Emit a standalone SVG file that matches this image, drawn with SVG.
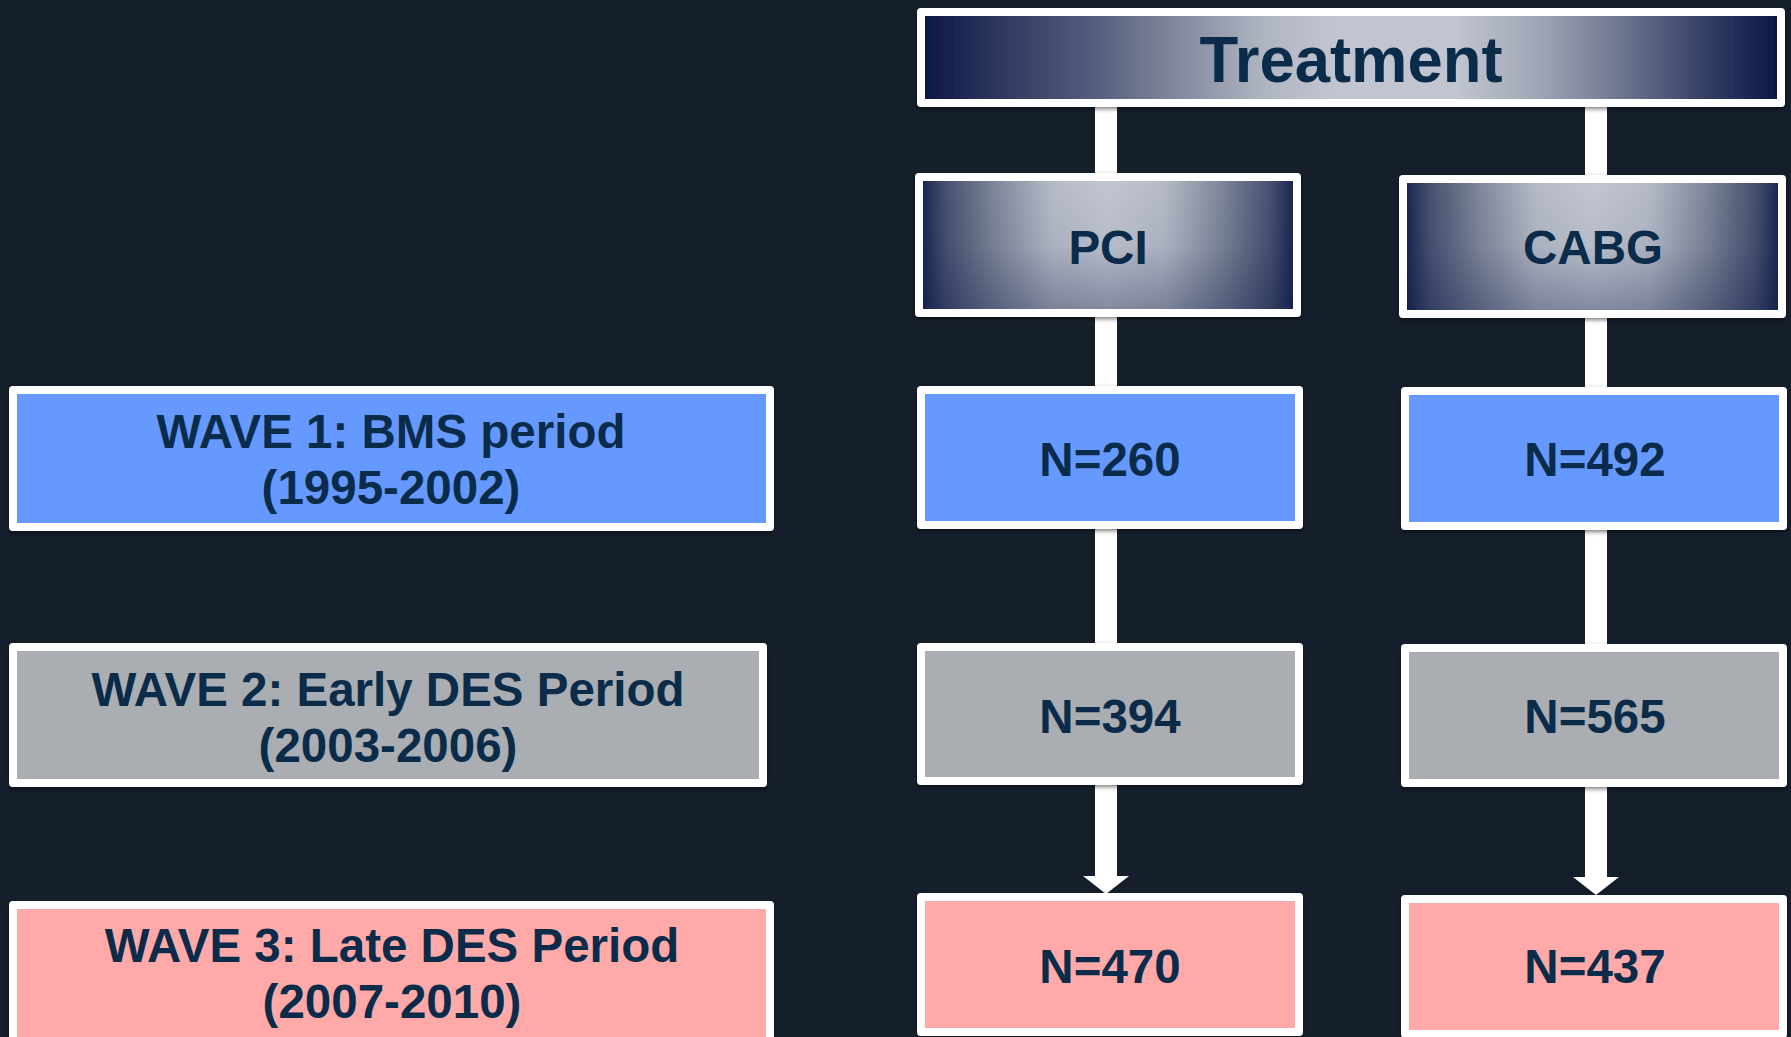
<svg xmlns="http://www.w3.org/2000/svg" width="1791" height="1037" viewBox="0 0 1791 1037">
<defs>
<linearGradient id="gTreat" x1="0" y1="0" x2="1" y2="0">
<stop offset="0" stop-color="#0a1644"/>
<stop offset="0.08" stop-color="#2a345c"/>
<stop offset="0.2" stop-color="#545d7c"/>
<stop offset="0.3" stop-color="#838a9e"/>
<stop offset="0.4" stop-color="#b0b5c2"/>
<stop offset="0.48" stop-color="#c1c5d0"/>
<stop offset="0.62" stop-color="#c1c5d0"/>
<stop offset="0.72" stop-color="#a0a5b6"/>
<stop offset="0.82" stop-color="#6a728c"/>
<stop offset="0.92" stop-color="#303b62"/>
<stop offset="1" stop-color="#0a1644"/>
</linearGradient>
<linearGradient id="gSub" x1="0" y1="0" x2="1" y2="0">
<stop offset="0" stop-color="#12204c"/>
<stop offset="0.07" stop-color="#46506f"/>
<stop offset="0.2" stop-color="#7e8699"/>
<stop offset="0.35" stop-color="#b5bac6"/>
<stop offset="0.5" stop-color="#c2c6d1"/>
<stop offset="0.65" stop-color="#b5bac6"/>
<stop offset="0.8" stop-color="#7e8699"/>
<stop offset="0.93" stop-color="#46506f"/>
<stop offset="1" stop-color="#12204c"/>
</linearGradient>
<linearGradient id="gShade" x1="0" y1="0" x2="0" y2="1">
<stop offset="0" stop-color="#0e1a48" stop-opacity="0"/>
<stop offset="0.5" stop-color="#0e1a48" stop-opacity="0.06"/>
<stop offset="1" stop-color="#0e1a48" stop-opacity="0.35"/>
</linearGradient>
<filter id="shadow" x="-5%" y="-5%" width="110%" height="115%">
<feDropShadow dx="0" dy="2" stdDeviation="2" flood-color="#000" flood-opacity="0.5"/>
</filter>
<marker id="arrow" markerUnits="userSpaceOnUse" viewBox="0 0 18 46" markerWidth="18" markerHeight="46" refX="0" refY="23" orient="auto">
<path d="M0,0 L18,23 L0,46 Z" fill="#ffffff"/>
</marker>
</defs>
<style>
.box{stroke:#ffffff;stroke-width:8;stroke-linejoin:round;filter:url(#shadow);}
.blue{fill:#6699ff;}
.gray{fill:#aaadb1;}
.pink{fill:#ffaaa8;}
.txt{font-family:"Liberation Sans",Arial,sans-serif;font-weight:bold;fill:#0a2c4a;text-anchor:middle;font-size:47.5px;}
.conn{stroke:#ffffff;stroke-width:22;fill:none;}
</style>
<rect x="0" y="0" width="1791" height="1037" fill="#151f2c"/>

<g id="connectors">
<line class="conn" x1="1106" y1="106" x2="1106" y2="174"/>
<line class="conn" x1="1106" y1="316" x2="1106" y2="387"/>
<line class="conn" x1="1106" y1="528" x2="1106" y2="644"/>
<line class="conn" x1="1106" y1="784" x2="1106" y2="876" marker-end="url(#arrow)"/>
<line class="conn" x1="1596" y1="106" x2="1596" y2="176"/>
<line class="conn" x1="1596" y1="317" x2="1596" y2="388"/>
<line class="conn" x1="1596" y1="529" x2="1596" y2="645"/>
<line class="conn" x1="1596" y1="786" x2="1596" y2="877" marker-end="url(#arrow)"/>
</g>

<g id="treatment">
<rect class="box" x="921" y="12" width="860" height="91" fill="url(#gTreat)"/>
<text class="txt" x="1351" y="82" style="font-size:64px" textLength="303" lengthAdjust="spacingAndGlyphs">Treatment</text>
</g>

<g id="pci">
<rect class="box" x="919" y="177" width="378" height="136" fill="url(#gSub)"/>
<rect x="923" y="181" width="370" height="128" fill="url(#gShade)"/>
<text class="txt" x="1108" y="264">PCI</text>
</g>

<g id="cabg">
<rect class="box" x="1403" y="179" width="379" height="135" fill="url(#gSub)"/>
<rect x="1407" y="183" width="371" height="127" fill="url(#gShade)"/>
<text class="txt" x="1593" y="264">CABG</text>
</g>

<g id="wave1">
<rect class="box blue" x="13" y="390" width="757" height="137"/>
<text class="txt" x="391" y="448">WAVE 1: BMS period</text>
<text class="txt" x="391" y="504">(1995-2002)</text>
</g>

<g id="pci-w1">
<rect class="box blue" x="921" y="390" width="378" height="135"/>
<text class="txt" x="1110" y="476">N=260</text>
</g>

<g id="cabg-w1">
<rect class="box blue" x="1405" y="391" width="378" height="135"/>
<text class="txt" x="1595" y="476">N=492</text>
</g>

<g id="wave2">
<rect class="box gray" x="13" y="647" width="750" height="136"/>
<text class="txt" x="388" y="706">WAVE 2: Early DES Period</text>
<text class="txt" x="388" y="762">(2003-2006)</text>
</g>

<g id="pci-w2">
<rect class="box gray" x="921" y="647" width="378" height="134"/>
<text class="txt" x="1110" y="733">N=394</text>
</g>

<g id="cabg-w2">
<rect class="box gray" x="1405" y="648" width="378" height="135"/>
<text class="txt" x="1595" y="733">N=565</text>
</g>

<g id="wave3">
<rect class="box pink" x="13" y="905" width="757" height="150"/>
<text class="txt" x="392" y="962">WAVE 3: Late DES Period</text>
<text class="txt" x="392" y="1018">(2007-2010)</text>
</g>

<g id="pci-w3">
<rect class="box pink" x="921" y="897" width="378" height="135"/>
<text class="txt" x="1110" y="983">N=470</text>
</g>

<g id="cabg-w3">
<rect class="box pink" x="1405" y="899" width="378" height="135"/>
<text class="txt" x="1595" y="983">N=437</text>
</g>
</svg>
